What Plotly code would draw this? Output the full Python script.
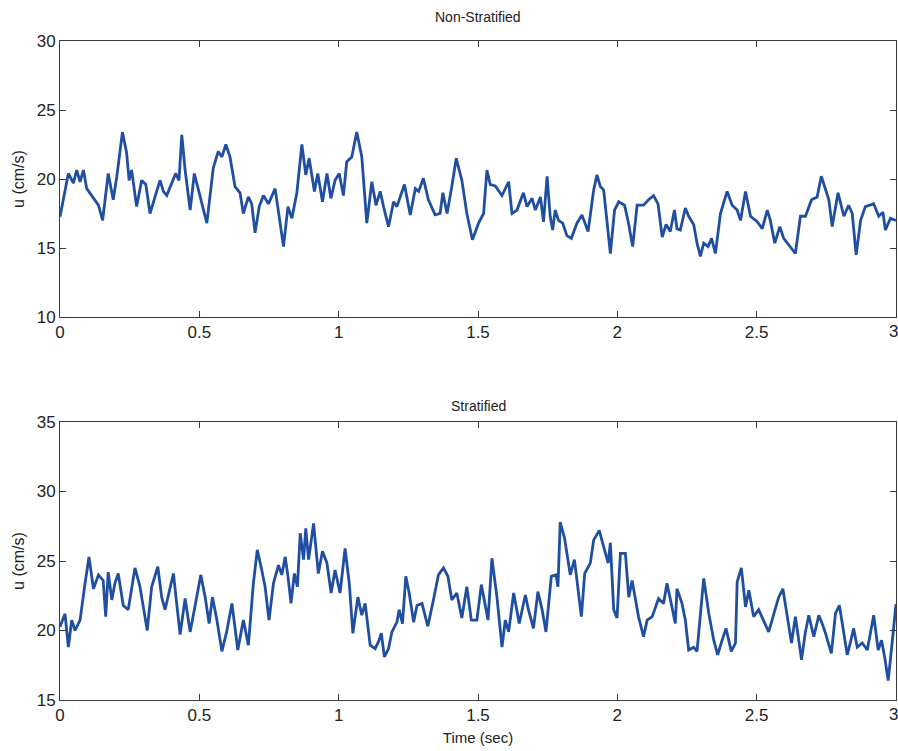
import plotly.graph_objects as go

# ---- data (time in s, velocity in cm/s) ----
t_non = [0.000, 0.012, 0.030, 0.048, 0.060, 0.072, 0.084, 0.096, 0.114, 0.126, 0.138, 0.153, 0.173, 0.191,
         0.204, 0.224, 0.239, 0.248, 0.257, 0.275, 0.293, 0.308, 0.323, 0.341, 0.359, 0.371, 0.383, 0.401,
         0.415, 0.427, 0.437, 0.449, 0.467, 0.482, 0.497, 0.527, 0.550, 0.568, 0.581, 0.595, 0.610, 0.628,
         0.646, 0.658, 0.676, 0.688, 0.700, 0.715, 0.730, 0.748, 0.772, 0.784, 0.802, 0.818, 0.832, 0.850,
         0.868, 0.882, 0.894, 0.913, 0.925, 0.942, 0.958, 0.972, 0.987, 1.002, 1.017, 1.029, 1.047, 1.065,
         1.083, 1.101, 1.119, 1.134, 1.149, 1.161, 1.179, 1.197, 1.209, 1.236, 1.257, 1.275, 1.287, 1.304,
         1.322, 1.346, 1.364, 1.374, 1.389, 1.406, 1.422, 1.442, 1.460, 1.480, 1.502, 1.520, 1.532, 1.544,
         1.562, 1.586, 1.610, 1.622, 1.640, 1.663, 1.676, 1.694, 1.706, 1.724, 1.735, 1.748, 1.759, 1.768,
         1.777, 1.789, 1.804, 1.819, 1.835, 1.855, 1.873, 1.895, 1.915, 1.927, 1.939, 1.951, 1.963, 1.975,
         1.990, 2.005, 2.026, 2.041, 2.055, 2.071, 2.094, 2.112, 2.130, 2.146, 2.161, 2.175, 2.190, 2.205,
         2.214, 2.226, 2.244, 2.256, 2.274, 2.286, 2.298, 2.310, 2.326, 2.338, 2.352, 2.370, 2.394, 2.412,
         2.430, 2.442, 2.460, 2.478, 2.502, 2.520, 2.538, 2.549, 2.565, 2.583, 2.597, 2.615, 2.639, 2.657,
         2.675, 2.697, 2.717, 2.732, 2.747, 2.759, 2.771, 2.792, 2.813, 2.830, 2.843, 2.857, 2.873, 2.890,
         2.920, 2.938, 2.953, 2.962, 2.980, 3.000]
u_non = [17.27, 18.5, 20.4, 19.7, 20.65, 19.8, 20.65, 19.3, 18.8, 18.5, 18.1, 17.0, 20.4, 18.5,
         20.2, 23.4, 21.9, 19.9, 20.65, 18.0, 19.9, 19.6, 17.5, 18.7, 19.9, 19.1, 18.8, 19.7,
         20.4, 19.9, 23.2, 20.65, 17.75, 20.4, 19.2, 16.8, 20.8, 22.0, 21.6, 22.5, 21.6, 19.45,
         19.0, 17.5, 18.7, 18.2, 16.1, 18.0, 18.8, 18.2, 19.3, 17.75, 15.1, 18.0, 17.15, 19.0,
         22.5, 20.3, 21.5, 19.1, 20.4, 18.35, 20.4, 18.6, 19.9, 20.4, 18.8, 21.25, 21.6, 23.4,
         21.6, 16.8, 19.8, 18.1, 19.1, 18.0, 16.55, 18.35, 18.0, 19.6, 17.4, 19.3, 19.1, 20.05,
         18.5, 17.4, 17.5, 19.0, 17.5, 19.45, 21.5, 19.9, 17.5, 15.6, 16.8, 17.5, 20.65, 19.6,
         19.5, 18.8, 19.8, 17.5, 17.75, 19.0, 18.0, 18.6, 17.75, 18.7, 16.9, 20.2, 17.3, 16.3,
         17.75, 17.0, 16.8, 15.9, 15.7, 16.8, 17.4, 16.2, 19.2, 20.3, 19.45, 19.2, 16.8, 14.6,
         17.75, 18.35, 18.1, 16.7, 15.1, 18.1, 18.1, 18.5, 18.8, 18.2, 15.8, 16.7, 16.2, 17.75,
         16.4, 16.3, 17.9, 17.3, 16.7, 15.35, 14.4, 15.35, 15.1, 15.7, 14.6, 17.5, 19.1, 18.1,
         17.75, 17.0, 19.1, 17.3, 16.9, 16.4, 17.75, 17.0, 15.35, 16.55, 15.7, 15.2, 14.6, 17.3,
         17.3, 18.5, 18.7, 20.2, 19.2, 18.5, 16.55, 19.0, 17.3, 18.1, 17.5, 14.5, 17.0, 18.0,
         18.2, 17.3, 17.6, 16.3, 17.15, 17.0]

t_str = [0.000, 0.018, 0.030, 0.042, 0.054, 0.072, 0.090, 0.104, 0.120, 0.138, 0.155, 0.164, 0.173, 0.186,
         0.197, 0.209, 0.227, 0.245, 0.269, 0.287, 0.299, 0.313, 0.329, 0.351, 0.365, 0.377, 0.407, 0.431,
         0.449, 0.467, 0.485, 0.505, 0.521, 0.535, 0.547, 0.563, 0.581, 0.599, 0.617, 0.638, 0.658, 0.676,
         0.694, 0.708, 0.724, 0.736, 0.750, 0.766, 0.784, 0.796, 0.808, 0.818, 0.829, 0.841, 0.852, 0.862,
         0.874, 0.882, 0.892, 0.910, 0.927, 0.942, 0.958, 0.973, 0.987, 1.005, 1.023, 1.038, 1.051, 1.069,
         1.083, 1.095, 1.113, 1.131, 1.143, 1.153, 1.164, 1.179, 1.191, 1.209, 1.217, 1.229, 1.241, 1.253,
         1.269, 1.281, 1.299, 1.320, 1.340, 1.358, 1.376, 1.392, 1.406, 1.424, 1.442, 1.460, 1.476, 1.496,
         1.512, 1.536, 1.550, 1.568, 1.586, 1.598, 1.610, 1.628, 1.648, 1.670, 1.681, 1.699, 1.715, 1.730,
         1.744, 1.763, 1.780, 1.787, 1.795, 1.811, 1.831, 1.846, 1.871, 1.883, 1.903, 1.915, 1.935, 1.951,
         1.967, 1.975, 1.987, 1.999, 2.011, 2.029, 2.041, 2.053, 2.076, 2.094, 2.107, 2.125, 2.148, 2.166,
         2.178, 2.196, 2.208, 2.214, 2.232, 2.244, 2.256, 2.274, 2.286, 2.310, 2.328, 2.346, 2.360, 2.376,
         2.390, 2.409, 2.424, 2.430, 2.445, 2.460, 2.472, 2.489, 2.507, 2.543, 2.561, 2.579, 2.594, 2.609,
         2.625, 2.639, 2.661, 2.675, 2.687, 2.705, 2.723, 2.735, 2.747, 2.768, 2.783, 2.797, 2.813, 2.825,
         2.837, 2.848, 2.861, 2.879, 2.897, 2.920, 2.936, 2.948, 2.960, 2.972, 2.986, 3.000]
u_str = [20.27, 21.2, 18.8, 20.75, 20.0, 20.75, 23.4, 25.3, 23.0, 24.0, 23.6, 21.0, 24.2, 22.2,
         23.4, 24.1, 21.8, 21.5, 24.5, 23.15, 21.7, 20.0, 23.15, 24.6, 22.4, 21.5, 24.1, 19.7,
         22.3, 19.9, 21.8, 24.0, 22.4, 20.5, 22.4, 20.75, 18.5, 20.0, 21.95, 18.6, 20.75, 18.95,
         23.4, 25.8, 24.35, 23.15, 20.75, 23.4, 24.7, 24.0, 25.3, 23.9, 21.95, 24.1, 23.15, 27.0,
         25.1, 27.35, 25.1, 27.7, 24.1, 25.7, 24.85, 22.7, 24.35, 22.7, 25.9, 23.4, 19.8, 22.4,
         21.1, 21.95, 18.95, 18.7, 19.2, 19.8, 18.1, 18.7, 19.9, 20.6, 21.5, 20.5, 23.9, 22.7,
         20.6, 21.8, 21.95, 20.3, 22.2, 24.0, 24.5, 23.9, 22.2, 22.7, 20.9, 23.15, 20.75, 20.75,
         23.3, 20.75, 25.2, 22.4, 18.8, 20.75, 19.9, 22.7, 20.5, 22.55, 21.5, 20.15, 22.8, 21.5,
         19.9, 23.9, 24.0, 23.15, 27.8, 26.6, 24.0, 25.1, 21.0, 24.1, 24.85, 26.5, 27.2, 26.0,
         24.85, 26.3, 21.5, 20.9, 25.55, 25.55, 22.4, 23.6, 21.0, 19.55, 20.75, 21.0, 22.3, 21.95,
         23.4, 21.7, 20.5, 23.0, 21.95, 20.75, 18.6, 18.8, 18.5, 23.75, 21.25, 19.3, 18.25, 19.3,
         20.15, 18.5, 19.1, 23.5, 24.5, 21.7, 22.9, 21.0, 21.5, 19.9, 21.25, 22.4, 23.0, 21.0,
         19.1, 21.0, 17.9, 19.9, 21.1, 19.55, 21.1, 20.5, 19.8, 18.35, 21.25, 21.8, 19.9, 18.25,
         19.2, 20.15, 18.8, 19.1, 18.6, 21.1, 18.6, 19.3, 18.0, 16.4, 19.1, 21.9]

x_ticks = [0, 0.5, 1, 1.5, 2, 2.5, 3]
x_ticklabels = ["0", "0.5", "1", "1.5", "2", "2.5", "3"]
y_ticks_non = [10, 15, 20, 25, 30]
y_ticks_str = [15, 20, 25, 30, 35]

LINE = "rgb(32,78,160)"
AX = "#3a3a3a"
TXT = "#222"
FONT = "Liberation Sans, Arial, sans-serif"
TICKSIZE = 17

fig = go.Figure()
fig.add_trace(go.Scatter(x=t_non, y=u_non, mode="lines", line=dict(color=LINE, width=2.8),
                         xaxis="x", yaxis="y", showlegend=False))
fig.add_trace(go.Scatter(x=t_str, y=u_str, mode="lines", line=dict(color=LINE, width=2.8),
                         xaxis="x2", yaxis="y2", showlegend=False))

common_x = dict(range=[0, 3], tickvals=x_ticks, ticktext=x_ticklabels, ticks="inside", ticklen=6,
                tickcolor=AX, showline=True, linecolor=AX, linewidth=1, mirror="ticks",
                showgrid=False, zeroline=False, tickfont=dict(family=FONT, size=TICKSIZE, color=TXT))
common_y = dict(ticks="inside", ticklen=6, tickcolor=AX, showline=True, linecolor=AX, linewidth=1,
                mirror="ticks", showgrid=False, zeroline=False,
                tickfont=dict(family=FONT, size=TICKSIZE, color=TXT),
                title=dict(text="u (cm/s)", font=dict(family=FONT, size=16, color=TXT), standoff=8))

H = 751
top_m, bot_m = 41, 51
ph = H - top_m - bot_m
dom_top = [1 - 276 / ph, 1]
dom_bot = [0, 1 - 381 / ph]

annotations = [
    dict(text="Non-Stratified", xref="paper", yref="paper", x=0.5, y=1, yshift=14,
         showarrow=False, xanchor="center", yanchor="bottom",
         font=dict(family=FONT, size=14, color=TXT)),
    dict(text="Stratified", xref="paper", yref="paper", x=0.5, y=dom_bot[1], yshift=6,
         showarrow=False, xanchor="center", yanchor="bottom",
         font=dict(family=FONT, size=14, color=TXT)),
]
# last x tick label ("3") sits at the right page edge; nudge it left so it stays fully visible
for xr, ybase in (("x", dom_top[0]), ("x2", dom_bot[0])):
    annotations.append(dict(text=x_ticklabels[-1], xref=xr, yref="paper", x=x_ticks[-1], y=ybase,
                            yshift=-3, xshift=-3, showarrow=False, xanchor="center", yanchor="top",
                            font=dict(family=FONT, size=TICKSIZE, color=TXT)))

fig.update_layout(
    width=898, height=751,
    margin=dict(l=60, r=2, t=top_m, b=bot_m),
    paper_bgcolor="white", plot_bgcolor="white",
    xaxis=dict(**common_x, domain=[0, 1], anchor="y"),
    yaxis=dict(**common_y, range=[10, 30], tickvals=y_ticks_non, domain=dom_top, anchor="x"),
    xaxis2=dict(**common_x, domain=[0, 1], anchor="y2",
                title=dict(text="Time (sec)", font=dict(family=FONT, size=15, color=TXT), standoff=8)),
    yaxis2=dict(**common_y, range=[15, 35], tickvals=y_ticks_str, domain=dom_bot, anchor="x2"),
    annotations=annotations,
)

fig.write_html("out.html")
